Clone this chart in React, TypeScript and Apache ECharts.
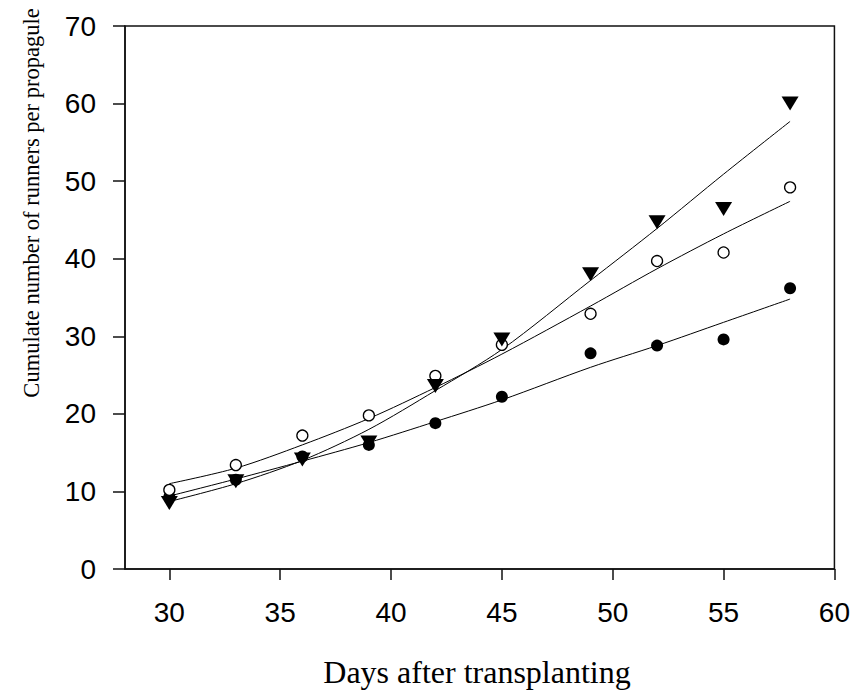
import React, { useEffect, useRef } from "react";
import * as echarts from "echarts";

const days = [30, 33, 36, 39, 42, 45, 49, 52, 55, 58];
const filledObs = [9.3, 11.5, 14.5, 16.0, 18.8, 22.2, 27.8, 28.8, 29.6, 36.2];
const openObs = [10.2, 13.4, 17.2, 19.8, 24.9, 28.9, 32.9, 39.7, 40.8, 49.2];
const triObs = [8.5, 11.3, 14.1, 16.3, 23.6, 29.6, 38.0, 44.7, 46.4, 60.0];

const filledFit = [9.4, 11.6, 13.9, 16.3, 19.0, 21.8, 26.0, 28.8, 31.8, 34.8];
const openFit = [11.0, 13.0, 16.0, 19.4, 23.4, 27.7, 33.9, 38.7, 43.2, 47.4];
const triFit = [8.7, 11.0, 14.0, 18.0, 23.0, 28.3, 37.2, 43.9, 50.9, 57.7];

const xTicks = [30, 35, 40, 45, 50, 55, 60];
const xTitle = "Days after transplanting";
const yTitle = "Cumulate number of runners per propagule";

const pairs = (ys: number[]) => days.map((d, i) => [d, ys[i]]);

export default function App() {
  const ref = useRef<HTMLDivElement>(null);
  useEffect(() => {
    if (!ref.current) return;
    const chart = echarts.init(ref.current, undefined, { renderer: "svg" });
    const labelFont = {
      fontFamily: "Liberation Sans",
      fontSize: 28,
      color: "#000",
    };
    const lineSeries = (ys: number[]) => ({
      type: "line",
      data: pairs(ys),
      smooth: 0.3,
      showSymbol: false,
      lineStyle: { color: "#000", width: 1 },
      z: 3,
    });
    chart.setOption({
      animation: false,
      backgroundColor: "#fff",
      grid: {
        left: 125,
        top: 26,
        right: 17,
        bottom: 122,
        show: true,
        borderColor: "#111",
        borderWidth: 1.5,
      },
      xAxis: {
        type: "value",
        min: 28,
        max: 60,
        splitLine: { show: false },
        axisLine: { show: true, lineStyle: { color: "#111", width: 1.5 } },
        axisTick: {
          show: true,
          length: 11,
          customValues: xTicks,
          lineStyle: { color: "#111", width: 1.5 },
        },
        axisLabel: { ...labelFont, margin: 29, customValues: xTicks },
      },
      yAxis: {
        type: "value",
        min: 0,
        max: 70,
        interval: 10,
        splitLine: { show: false },
        axisLine: { show: true, lineStyle: { color: "#111", width: 1.5 } },
        axisTick: { show: true, length: 12, lineStyle: { color: "#111", width: 1.5 } },
        axisLabel: { ...labelFont, margin: 29 },
      },
      graphic: [
        {
          type: "text",
          x: 477,
          y: 672,
          style: {
            text: xTitle,
            fontFamily: "Liberation Serif",
            fontSize: 32,
            fill: "#000",
            textAlign: "center",
            textVerticalAlign: "middle",
          },
        },
        {
          type: "text",
          x: 31,
          y: 203,
          rotation: Math.PI / 2,
          style: {
            text: yTitle,
            fontFamily: "Liberation Serif",
            fontSize: 22.5,
            fill: "#000",
            textAlign: "center",
            textVerticalAlign: "middle",
          },
        },
      ],
      series: [
        lineSeries(filledFit),
        lineSeries(openFit),
        lineSeries(triFit),
        {
          type: "scatter",
          data: pairs(filledObs),
          symbol: "circle",
          symbolSize: 12,
          itemStyle: { color: "#000", opacity: 1 },
          z: 4,
        },
        {
          type: "scatter",
          data: pairs(openObs),
          symbol: "circle",
          symbolSize: 11,
          itemStyle: { color: "#fff", borderColor: "#000", borderWidth: 1.3, opacity: 1 },
          z: 4,
        },
        {
          type: "scatter",
          data: pairs(triObs),
          symbol: "triangle",
          symbolRotate: 180,
          symbolSize: [17, 14],
          itemStyle: { color: "#000", opacity: 1 },
          z: 4,
        },
      ],
    });
    return () => chart.dispose();
  }, []);
  return (
    <div
      ref={ref}
      style={{ position: "fixed", left: 0, top: 0, width: 853, height: 691 }}
    />
  );
}
